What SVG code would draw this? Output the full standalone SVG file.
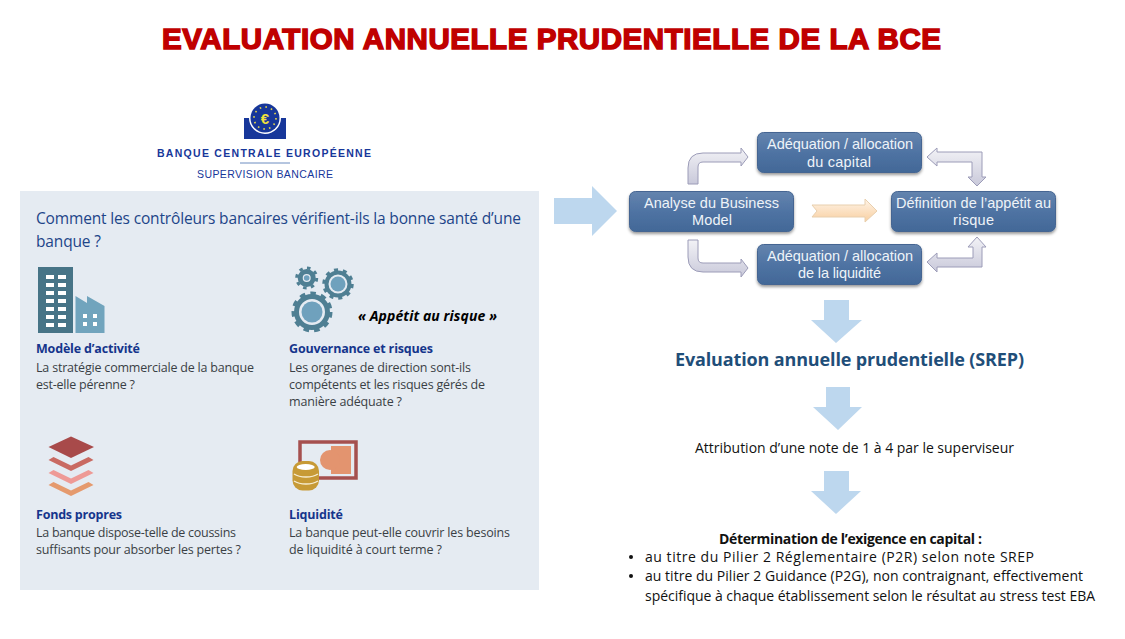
<svg xmlns="http://www.w3.org/2000/svg" width="1125" height="639" viewBox="0 0 1125 639">
<style>
text{font-family:"Open Sans","Noto Sans","Liberation Sans",sans-serif}
.title{font-family:"Liberation Sans",Arial,sans-serif;font-weight:700;font-size:29.5px;fill:#c00000;stroke:#c00000;stroke-width:1.5px}
.h{font-size:15.5px;fill:#1d4589}
.lb{font-size:12.5px;font-weight:700;fill:#15358c}
.b{font-size:12.5px;fill:#3a3f45}
.box{fill:url(#boxG);stroke:#456592;stroke-width:1;filter:url(#sh)}
.nt{font-family:"Liberation Sans",Arial,sans-serif;font-size:14.5px;fill:#eef3f8}
.ga{fill:url(#grayG);stroke:#9c9cb8;stroke-width:1}
.blue{fill:#bdd7ee}
.r{font-size:14px;fill:#111}
.gear{fill:none;stroke:#4f7f93}
</style>
<defs>
<linearGradient id="boxG" x1="0" y1="0" x2="0" y2="1"><stop offset="0" stop-color="#6484ae"/><stop offset=".5" stop-color="#4f73a3"/><stop offset="1" stop-color="#426897"/></linearGradient>
<linearGradient id="grayG" x1="0" y1="0" x2="0" y2="1"><stop offset="0" stop-color="#f2f2f6"/><stop offset="1" stop-color="#c9c9da"/></linearGradient>
<linearGradient id="orG" x1="0" y1="0" x2="0" y2="1"><stop offset="0" stop-color="#fff4e8"/><stop offset="1" stop-color="#f8cfa0"/></linearGradient>
<filter id="sh" x="-10%" y="-20%" width="120%" height="150%"><feDropShadow dx="0" dy="2" stdDeviation="1.500" flood-color="#000" flood-opacity=".4"/></filter>
</defs>
<rect width="1125" height="639" fill="#fff"/>
<text class="title" x="162" y="49" textLength="779" lengthAdjust="spacing">EVALUATION ANNUELLE PRUDENTIELLE DE LA BCE</text>

<g id="logo">
<path d="M244 118h5a16 16 0 0 0 32 0h5v21h-42z" fill="#17379a"/>
<circle cx="265" cy="118" r="14.500" fill="#17379a"/>
<circle cx="265" cy="118" r="11" fill="none" stroke="#e8d94a" stroke-width="1.600" stroke-dasharray="1.600 4.160"/>
<text x="265" y="123.500" text-anchor="middle" style="font-family:'Liberation Sans',sans-serif;font-size:15px;font-weight:700;fill:#f2e23a">€</text>
<text x="157" y="157" textLength="214" style="font-family:'Liberation Sans',sans-serif;font-size:10.500px;font-weight:700;fill:#17379a">BANQUE CENTRALE EUROPÉENNE</text>
<line x1="240" y1="163" x2="290" y2="163" stroke="#6d8cc0" stroke-width="1"/>
<text x="197" y="178" textLength="136" style="font-family:'Liberation Sans',sans-serif;font-size:10.500px;fill:#17379a">SUPERVISION BANCAIRE</text>
</g>

<g id="panel">
<rect x="20" y="191" width="519" height="399" fill="#e5ebf2"/>
<text class="h" x="36" y="224" textLength="485">Comment les contrôleurs bancaires vérifient-ils la bonne santé d’une</text>
<text class="h" x="36" y="247" textLength="65">banque ?</text>
</g>

<g id="modele">
<rect x="38" y="267" width="35" height="66" fill="#477487"/>
<path d="M46 275h8v4h-8zM58 275h8v4h-8zM46 283h8v4h-8zM58 283h8v4h-8zM46 291h8v4h-8zM58 291h8v4h-8zM46 299h8v4h-8zM58 299h8v4h-8zM46 307h8v4h-8zM58 307h8v4h-8zM46 315h8v4h-8zM58 315h8v4h-8zM46 323h8v4h-8zM58 323h8v4h-8z" fill="#fff"/>
<path d="M75.500 333V296l11.500 7v-7l17.500 10v27z" fill="#71a4bd"/>
<path d="M83 314h4v4h-4zM93 314h4v4h-4zM83 322h4v4h-4zM93 322h4v4h-4z" fill="#fff"/>
<text class="lb" x="36" y="353" textLength="104">Modèle d’activité</text>
<text class="b" x="36" y="372" textLength="218">La stratégie commerciale de la banque</text>
<text class="b" x="36" y="389" textLength="99">est-elle pérenne ?</text>
</g>

<g id="gouvernance">
<circle class="gear" cx="306.700" cy="278" r="6.500" stroke-width="5"/>
<circle class="gear" cx="306.700" cy="278" r="10" stroke-width="3" stroke-dasharray="3.500 4.350"/>
<circle cx="306.700" cy="278" r="2.800" fill="#6fa1bd"/>
<circle class="gear" cx="338" cy="284" r="11.500" stroke-width="4"/>
<circle class="gear" cx="338" cy="284" r="14" stroke-width="3.500" stroke-dasharray="4 4.800"/>
<circle cx="338" cy="284" r="7.500" fill="#6fa1bd"/>
<circle class="gear" cx="312" cy="312" r="15.500" stroke-width="5"/>
<circle class="gear" cx="312" cy="312" r="18.500" stroke-width="4" stroke-dasharray="5.500 5.120"/>
<circle cx="312" cy="312" r="10.500" fill="#6fa1bd"/>
<text x="358" y="321" textLength="139" style="font-size:14px;font-weight:700;font-style:italic;fill:#000">« Appétit au risque »</text>
<text class="lb" x="289" y="353" textLength="144">Gouvernance et risques</text>
<text class="b" x="289" y="372" textLength="182">Les organes de direction sont-ils</text>
<text class="b" x="289" y="389" textLength="196">compétents et les risques gérés de</text>
<text class="b" x="289" y="406" textLength="113">manière adéquate ?</text>
</g>

<g id="fonds">
<path d="M48.500 447L71 436.500 94 447 71 458z" fill="#a84a4a"/>
<path d="M48.500 460l5-3 17.500 8.500L88.500 457l5 3L71 471z" fill="#c96a62"/>
<path d="M48.500 473l5-3 17.500 8.500L88.500 470l5 3L71 484z" fill="#ee9a96"/>
<path d="M48.500 485l5-3 17.500 8.500L88.500 482l5 3L71 496z" fill="#e59a6e"/>
<text class="lb" x="36" y="519" textLength="86">Fonds propres</text>
<text class="b" x="36" y="537" textLength="200">La banque dispose-telle de coussins</text>
<text class="b" x="36" y="554" textLength="205">suffisants pour absorber les pertes ?</text>
</g>

<g id="liquidite">
<path d="M300 462V442h56v36H319" fill="none" stroke="#a5504f" stroke-width="3.500"/>
<rect x="331" y="446" width="20" height="28" fill="#e3946f"/>
<circle cx="330" cy="460" r="10" fill="#e3946f"/>
<rect x="292.500" y="461" width="26.500" height="29.500" rx="10" fill="#c79a36"/>
<ellipse cx="305.700" cy="467" rx="9" ry="3" fill="#fff"/>
<path d="M294 474c6 4 18 4 24 0M294 481c6 4 18 4 24 0" fill="none" stroke="#f6ecd0" stroke-width="1.500"/>
<text class="lb" x="289" y="519" textLength="54">Liquidité</text>
<text class="b" x="289" y="537" textLength="221">La banque peut-elle couvrir les besoins</text>
<text class="b" x="289" y="554" textLength="153">de liquidité à court terme ?</text>
</g>

<g id="connectors">
<path class="blue" d="M554 198h38v-12l25 25-25 25v-12h-38z"/>
<path class="ga" d="M688 184V168q0-15 15-15h38v-5l7 9-7 9v-4h-38q-5 0-5 5v17z"/>
<path class="ga" d="M688 240v17q0 15 15 15h38v5l7-9-7-9v4h-38q-5 0-5-5v-18z"/>
<path class="ga" d="M927 157l10-9v4h45v25h4l-9 9-9-9h4v-15h-35v4z"/>
<path class="ga" d="M927 262l10-9v5h36v-11h-5l9-10 9 10h-4v20h-45v5z"/>
<path d="M812 205h53v-6l12 12-12 11v-5h-53l5-6z" fill="url(#orG)" stroke="#e8cfae" stroke-width="1"/>
<path class="blue" d="M824 300h25v20h13l-26 23-25-23h13z"/>
<path class="blue" d="M826 387h24v20h12l-24 23-25-23h13z"/>
<path class="blue" d="M824 471h25v20h12l-25 23-25-23h13z"/>
</g>

<g id="analyse"><rect class="box" x="629.500" y="191.500" width="164" height="40" rx="6"/>
<text class="nt" x="644" y="208" textLength="135">Analyse du Business</text><text class="nt" x="692" y="225" textLength="40">Model</text></g>
<g id="capital"><rect class="box" x="757.500" y="132.500" width="164" height="40" rx="6"/>
<text class="nt" x="767" y="149" textLength="146">Adéquation / allocation</text><text class="nt" x="807" y="167" textLength="64">du capital</text></g>
<g id="liquidite-box"><rect class="box" x="757.500" y="244.500" width="164" height="40" rx="6"/>
<text class="nt" x="767" y="261" textLength="146">Adéquation / allocation</text><text class="nt" x="798" y="278" textLength="83">de la liquidité</text></g>
<g id="appetit"><rect class="box" x="891.500" y="191.500" width="164" height="40" rx="6"/>
<text class="nt" x="896" y="208" textLength="155">Définition de l’appétit au</text><text class="nt" x="953" y="225" textLength="41">risque</text></g>

<g id="srep">
<text x="675" y="366" textLength="349" style="font-size:18px;font-weight:700;fill:#1f4e79">Evaluation annuelle prudentielle (SREP)</text>
<text class="r" x="695" y="453" textLength="319">Attribution d’une note de 1 à 4 par le superviseur</text>
<text class="r" x="719" y="544" textLength="263" style="font-weight:700">Détermination de l’exigence en capital :</text>
<circle cx="631" cy="557" r="2" fill="#111"/>
<text class="r" x="645" y="562" textLength="389">au titre du Pilier 2 Réglementaire (P2R) selon note SREP</text>
<circle cx="631" cy="576" r="2" fill="#111"/>
<text class="r" x="645" y="581" textLength="438">au titre du Pilier 2 Guidance (P2G), non contraignant, effectivement</text>
<text class="r" x="645" y="601" textLength="450">spécifique à chaque établissement selon le résultat au stress test EBA</text>
</g>
</svg>
